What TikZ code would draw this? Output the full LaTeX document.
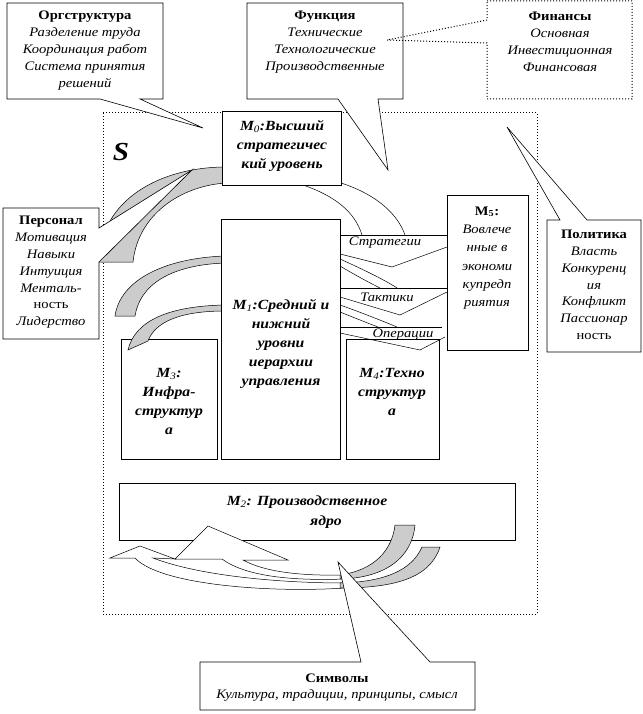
\documentclass[tikz,border=0pt]{standalone}
\usepackage{fontspec}
\setmainfont{Liberation Serif}[FakeStretch=1.12]
\begin{document}
\begin{tikzpicture}[x=1pt,y=-1pt,
  box/.style={draw,fill=white,line width=0.6pt},
  dotline/.style={draw,line width=1pt,dash pattern=on 1pt off 2pt},
  grayband/.style={draw,fill=black!20,line width=0.5pt},
  wband/.style={draw,fill=white,line width=0.5pt},
  thinline/.style={line width=0.5pt},
  small/.style={font=\fontsize{13}{16.8}\selectfont, align=center, inner sep=0pt},
  mlab/.style={font=\fontsize{14}{19}\selectfont\bfseries\itshape, align=center, inner sep=0pt},
  lab/.style={font=\fontsize{13}{16}\selectfont\itshape, inner sep=0pt},
]
\useasboundingbox (0,0) rectangle (642,714);
\fill[white] (0,0) rectangle (642,714);

% system boundary S
\draw[dotline] (103,113) rectangle (537,614);

% top callouts
\draw[box] (7,3) -- (163,3) -- (163,99) -- (140,99) -- (203,128) -- (100,99) -- (7,99) -- cycle;
\draw[box] (247,3) -- (403,3) -- (403,99) -- (378,99) -- (388,170) -- (338,99) -- (247,99) -- cycle;
\draw[dotline] (487,1) -- (632,1) -- (632,99) -- (487,99) -- (487,43) -- (387,40) -- (487,20) -- cycle;

% gray band left of M0 (behind Personal tail)
\draw[grayband] (226,167) .. controls (160,167) and (100,200) .. (99,262) -- (133,262) .. controls (138,215) and (180,186) .. (226,183) -- cycle;

% Personal callout
\draw[box] (3,208) -- (99,208) -- (99,228) -- (192,170) -- (99,262) -- (99,339) -- (3,339) -- cycle;

% Politics callout
\draw[box] (547,220) -- (560,220) -- (507,127) -- (587,220) -- (641,220) -- (641,352) -- (547,352) -- cycle;

% white curves from M0 to the right
\draw[thinline] (303,185) .. controls (335,196) and (355,212) .. (362,235);
\draw[thinline] (341,183) .. controls (378,195) and (398,215) .. (405,235);

% M3, M4 boxes
\node[box,anchor=north west,minimum width=96pt,minimum height=120pt,inner sep=0pt] (m3) at (121,339) {};
\node[box,anchor=north west,minimum width=93pt,minimum height=120pt,inner sep=0pt] (m4) at (346,339) {};

% strategy / tactics / operations lines
\draw[thinline] (340,235) -- (447,235);
\draw[thinline] (340,254) -- (392,267) -- (447,247);
\draw[thinline] (340,259) .. controls (360,268) and (385,280) .. (397,288);
\draw[thinline] (340,266) .. controls (355,275) and (370,283) .. (380,288);
\draw[thinline] (340,288) -- (447,288);
\draw[thinline] (340,297) -- (400,315) -- (447,292);
\draw[thinline] (340,305) .. controls (360,312) and (385,322) .. (397,327);
\draw[thinline] (340,312) .. controls (355,318) and (370,324) .. (378,327);
\draw[thinline] (340,327) -- (442,327);
\draw[thinline] (340,333) -- (420,350) -- (445,337);

% gray bands left of M1
\draw[grayband] (225,256) .. controls (165,258) and (120,280) .. (115,316) -- (135,316) .. controls (140,285) and (170,265) .. (225,263) -- cycle;
\draw[grayband] (225,305) .. controls (170,306) and (135,320) .. (128,350) -- (148,341) .. controls (155,322) and (180,311) .. (225,311) -- cycle;

% main boxes
\node[box,anchor=north west,minimum width=119pt,minimum height=74pt,inner sep=0pt] (m0) at (222,111) {};
\node[box,anchor=north west,minimum width=119pt,minimum height=240pt,inner sep=0pt] (m1) at (221,219) {};
\node[box,anchor=north west,minimum width=81pt,minimum height=155pt,inner sep=0pt] (m5) at (447,195) {};
\node[box,anchor=north west,minimum width=396pt,minimum height=57pt,inner sep=0pt] (m2) at (119,483) {};

% bottom arrows
\draw[wband] (110,558) -- (140,546) -- (175,559) -- (153,558) .. controls (200,576) and (280,583) .. (345,583) -- (345,588) .. controls (270,593) and (160,585) .. (135,558) -- cycle;
\draw[grayband] (340,583) .. controls (385,582) and (412,570) .. (422,547) -- (440,547) .. controls (430,578) and (395,588) .. (340,588) -- cycle;
\draw[wband] (175,559) -- (208,526) -- (288,560) -- (243,560) .. controls (265,572) and (300,576) .. (345,575) -- (345,579) .. controls (290,581) and (245,576) .. (222,559) -- cycle;
\draw[grayband] (340,575) .. controls (375,570) and (392,550) .. (395,525) -- (415,525) .. controls (412,558) and (385,578) .. (340,579) -- cycle;

% Symbols callout
\draw[box] (200,662) -- (361,662) -- (338,562) -- (430,662) -- (475,662) -- (475,710) -- (200,710) -- cycle;

% texts
\node[small] (torg) at (85,50.5) {\textbf{Оргструктура}\\\textit{Разделение труда}\\\textit{Координация работ}\\\textit{Система принятия}\\\textit{решений}};
\node[small] (tfun) at (325,42) {\textbf{Функция}\\\textit{Технические}\\\textit{Технологические}\\\textit{Производственные}};
\node[small] (tfin) at (560,42) {\textbf{Финансы}\\\textit{Основная}\\\textit{Инвестиционная}\\\textit{Финансовая}};
\node[small] (tper) at (51,272.5) {\textbf{Персонал}\\\textit{Мотивация}\\\textit{Навыки}\\\textit{Интуиция}\\\textit{Менталь-}\\ность\\\textit{Лидерство}};
\node[small] (tpol) at (594,285) {\textbf{Политика}\\\textit{Власть}\\\textit{Конкуренц}\\\textit{ия}\\\textit{Конфликт}\\\textit{Пассионар}\\ность};
\node[small] (tsym) at (337,687.5) {\textbf{Символы}\\\textit{Культура, традиции, принципы, смысл}};
\node[font=\fontsize{26}{26}\selectfont\bfseries\itshape,inner sep=0pt] (ts) at (121,152) {S};
\node[mlab] (tm0) at (282,146) {M\textsubscript{\mdseries 0}:Высший\\стратегичес\\кий уровень};
\node[mlab] (tm1) at (281,344) {M\textsubscript{\mdseries 1}:Средний и\\нижний\\уровни\\иерархии\\управления};
\node[mlab] (tm3) at (169,401) {M\textsubscript{\mdseries 3}:\\Инфра-\\структур\\а};
\node[mlab] (tm4) at (392,392) {M\textsubscript{\mdseries 4}:Техно\\структур\\а};
\node[small,font=\fontsize{13}{18.3}\selectfont] (tm5) at (487,258) {\textbf{M\textsubscript{5}:}\\\textit{Вовлече}\\\textit{нные в}\\\textit{экономи}\\\textit{купредп}\\\textit{риятия}};
\node[mlab,font=\fontsize{14}{20}\selectfont\bfseries\itshape] (tm2) at (307,512) {M\textsubscript{\mdseries 2}: Производственное\\\hspace*{38pt}ядро};
\node[lab] (tstr) at (385,243) {Стратегии};
\node[lab] (ttak) at (387,297) {Тактики};
\node[lab] (top) at (403,335) {Операции};
\end{tikzpicture}
\end{document}
